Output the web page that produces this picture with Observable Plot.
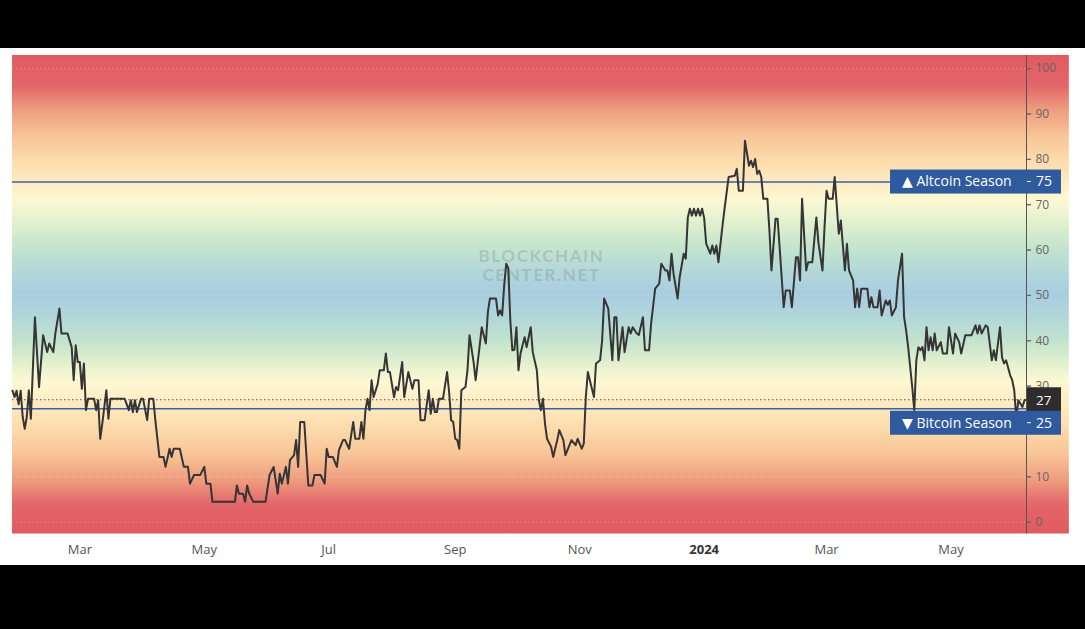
<!DOCTYPE html>
<html><head><meta charset="utf-8">
<script src="https://cdn.jsdelivr.net/npm/d3@7"></script>
<script src="https://cdn.jsdelivr.net/npm/@observablehq/plot@0.6"></script>
<style>
html,body{margin:0;padding:0;background:#000;width:1085px;height:629px;overflow:hidden}
#panel{position:absolute;left:0;top:48px;width:1085px;height:517px;background:#fff}
#panel svg{display:block;overflow:visible}
</style></head><body><div id="panel"></div>
<script>
// ---- data ----
const dates = [
"2023-01-27","2023-01-28","2023-01-29","2023-01-30","2023-01-31","2023-02-01","2023-02-02","2023-02-03","2023-02-04","2023-02-05",
"2023-02-07","2023-02-09","2023-02-11","2023-02-13","2023-02-14","2023-02-16","2023-02-17","2023-02-19","2023-02-20","2023-02-23",
"2023-02-25","2023-02-26","2023-02-27","2023-02-28","2023-03-01","2023-03-02","2023-03-03","2023-03-04","2023-03-05","2023-03-08",
"2023-03-09","2023-03-10","2023-03-11","2023-03-12","2023-03-14","2023-03-15","2023-03-16","2023-03-23","2023-03-25","2023-03-26",
"2023-03-27","2023-03-28","2023-03-29","2023-03-31","2023-04-01","2023-04-03","2023-04-04","2023-04-06","2023-04-07","2023-04-09",
"2023-04-11","2023-04-12","2023-04-14","2023-04-15","2023-04-16","2023-04-19","2023-04-21","2023-04-23","2023-04-24","2023-04-26",
"2023-04-29","2023-05-01","2023-05-02","2023-05-04","2023-05-05","2023-05-16","2023-05-17","2023-05-18","2023-05-20","2023-05-21",
"2023-05-22","2023-05-23","2023-05-25","2023-05-31","2023-06-02","2023-06-04","2023-06-06","2023-06-07","2023-06-08","2023-06-10",
"2023-06-11","2023-06-12","2023-06-14","2023-06-15","2023-06-16","2023-06-17","2023-06-19","2023-06-21","2023-06-23","2023-06-24",
"2023-06-27","2023-06-29","2023-06-30","2023-07-01","2023-07-03","2023-07-05","2023-07-06","2023-07-08","2023-07-09","2023-07-11",
"2023-07-13","2023-07-14","2023-07-16","2023-07-17","2023-07-18","2023-07-19","2023-07-20","2023-07-21","2023-07-22","2023-07-23",
"2023-07-25","2023-07-26","2023-07-28","2023-07-29","2023-07-30","2023-07-31","2023-08-02","2023-08-03","2023-08-04","2023-08-06",
"2023-08-07","2023-08-09","2023-08-11","2023-08-12","2023-08-14","2023-08-15","2023-08-17","2023-08-19","2023-08-20","2023-08-21",
"2023-08-22","2023-08-23","2023-08-24","2023-08-26","2023-08-28","2023-08-29","2023-08-30","2023-08-31","2023-09-01","2023-09-02",
"2023-09-03","2023-09-04","2023-09-06","2023-09-07","2023-09-08","2023-09-10","2023-09-11","2023-09-13","2023-09-14","2023-09-16",
"2023-09-17","2023-09-18","2023-09-21","2023-09-22","2023-09-23","2023-09-24","2023-09-25","2023-09-26","2023-09-27","2023-09-28",
"2023-09-29","2023-09-30","2023-10-01","2023-10-02","2023-10-03","2023-10-05","2023-10-06","2023-10-08","2023-10-09","2023-10-11",
"2023-10-12","2023-10-13","2023-10-14","2023-10-15","2023-10-16","2023-10-18","2023-10-19","2023-10-21","2023-10-22","2023-10-24",
"2023-10-25","2023-10-27","2023-10-28","2023-10-30","2023-10-31","2023-11-02","2023-11-03","2023-11-04","2023-11-05","2023-11-07",
"2023-11-08","2023-11-09","2023-11-11","2023-11-12","2023-11-13","2023-11-15","2023-11-17","2023-11-18","2023-11-19","2023-11-20",
"2023-11-22","2023-11-23","2023-11-25","2023-11-26","2023-11-27","2023-11-29","2023-11-30","2023-12-02","2023-12-03","2023-12-05",
"2023-12-06","2023-12-08","2023-12-10","2023-12-11","2023-12-13","2023-12-14","2023-12-15","2023-12-16","2023-12-17","2023-12-19",
"2023-12-20","2023-12-22","2023-12-23","2023-12-24","2023-12-25","2023-12-26","2023-12-27","2023-12-28","2023-12-29","2023-12-30",
"2023-12-31","2024-01-01","2024-01-02","2024-01-04","2024-01-05","2024-01-06","2024-01-07","2024-01-08","2024-01-10","2024-01-11",
"2024-01-13","2024-01-16","2024-01-17","2024-01-18","2024-01-20","2024-01-21","2024-01-23","2024-01-24","2024-01-25","2024-01-26",
"2024-01-27","2024-01-28","2024-01-29","2024-01-30","2024-02-01","2024-02-02","2024-02-03","2024-02-05","2024-02-06","2024-02-07",
"2024-02-09","2024-02-10","2024-02-12","2024-02-13","2024-02-15","2024-02-16","2024-02-17","2024-02-18","2024-02-20","2024-02-21",
"2024-02-23","2024-02-25","2024-02-26","2024-02-28","2024-02-29","2024-03-01","2024-03-02","2024-03-04","2024-03-05","2024-03-07",
"2024-03-08","2024-03-10","2024-03-11","2024-03-12","2024-03-14","2024-03-15","2024-03-16","2024-03-17","2024-03-18","2024-03-21",
"2024-03-22","2024-03-23","2024-03-24","2024-03-26","2024-03-27","2024-03-28","2024-03-30","2024-03-31","2024-04-01","2024-04-02",
"2024-04-04","2024-04-05","2024-04-07","2024-04-08","2024-04-09","2024-04-10","2024-04-12","2024-04-13","2024-04-14","2024-04-15",
"2024-04-16","2024-04-17","2024-04-18","2024-04-19","2024-04-20","2024-04-21","2024-04-22","2024-04-23","2024-04-24","2024-04-26",
"2024-04-27","2024-04-29","2024-04-30","2024-05-01","2024-05-02","2024-05-03","2024-05-05","2024-05-06","2024-05-08","2024-05-11",
"2024-05-13","2024-05-14","2024-05-15","2024-05-16","2024-05-18","2024-05-19","2024-05-21","2024-05-22","2024-05-23","2024-05-25",
"2024-05-26","2024-05-27","2024-05-28","2024-05-30","2024-05-31","2024-06-01","2024-06-02","2024-06-03","2024-06-05","2024-06-06",
"2024-06-07"
];
const values = [
29,27.6,29,26,29,23.2,20.6,23.2,29.1,22.8,
45.2,29.8,41.2,37.5,39.4,37.5,41.6,47.1,41.6,41.6,
38.6,31.3,39,35.3,35.3,29.4,35,24.7,27.2,27.2,
24.7,26.9,18.4,21.7,29.1,22.8,27.2,27.2,24.7,26.9,
24.3,26.9,24.3,27.2,27.2,22.5,27.2,27.2,22.5,14.4,
14.4,12.2,16.2,14.4,16.2,16.2,12.2,12.2,8.5,10.4,
10.4,12.2,8.5,8.5,4.5,4.5,8.1,6.3,6.3,4.5,
8.1,6.3,4.5,4.5,10.4,12.2,6.3,10.7,8.5,12.2,
8.5,13.7,14.8,18.1,12.2,22.1,22.1,8.1,8.1,10.4,
10.4,8.5,16.2,14.4,14.4,12.2,15.9,18.1,18.1,16.2,
22.1,18.4,18.4,22.1,18.4,24.7,27.2,24.7,31.3,27.6,
30.5,33.5,33.5,37.2,33.1,33.1,27.6,29.8,29.1,35.3,
27.6,33.1,29.4,31.3,31.3,22.5,22.5,29.1,23.9,27.2,
24.3,24.3,27.2,27.2,33.1,28.7,22.5,22.1,18.4,18.1,
16.2,29.1,29.8,33.5,41.2,35.3,31.3,39,43,39.4,
46.3,49.3,49.3,45.6,46.7,45.6,52.2,57,56,44.5,
37.9,38,43,33.5,37.2,40.8,38.6,43,37.5,33.5,
26.9,24.7,27.2,21.7,18.4,16.6,14.4,18.1,20.3,18.1,
14.8,17,18.1,17,18.4,16.2,17.3,27.6,33.1,29.4,
27.6,35,35.7,40.1,49.3,47.1,35.7,45.2,45.2,35.7,
43,37.5,43,41.6,43,41.6,41.3,45.2,37.9,37.9,
43.8,51.5,52.6,57,55.5,55.5,53.3,59.2,54.8,49.3,
54,59.2,58.1,67.2,69.1,67.6,69.1,67.6,69.1,67.6,
69.1,67.1,61.4,59.2,61,59.2,61,57.3,65.4,69.1,
76.1,76.4,77.9,73.1,73.1,84.1,78.6,79.7,78.3,80.1,
76.8,77.5,76.1,71.3,71.3,64.3,55.5,66.9,66.9,60.6,
47.4,51.1,51.1,47.4,58.4,58.4,53.3,71.3,55.5,57.3,
57.3,67.2,61.7,55.5,65,73.1,71.3,71.3,76.1,63.6,
66.5,55.5,61.4,55.5,53.3,47.4,51.5,47.4,51.5,51.5,
47.4,49.6,47.4,47.4,51.1,45.6,48.9,47.9,48.9,45.6,
47.4,53.3,59.2,45.2,42.3,38.6,29.8,24.7,35.7,38.6,
37.9,38.6,35.7,43,37.9,40.8,37.9,41.6,37.9,39.7,
37.2,37.2,43,40.1,37.2,41.6,39.7,37.2,41.2,41.2,
43.4,41.6,43.4,41.6,43.4,43,35.7,37.9,35.7,43,
36.4,35,35.7,32.4,31.3,29.1,22.8,26.9,25.4,26.9,
27
];
const thresholds = [75, 25];
const thresholdLabels = ["▲ Altcoin Season", "▼ Bitcoin Season"];
const yTicks = [0, 10, 20, 30, 40, 50, 60, 70, 80, 90, 100];
const xTickDates = ["2023-03-01","2023-05-01","2023-07-01","2023-09-01","2023-11-01","2024-01-01","2024-03-01","2024-05-01"];
const xTickLabels = ["Mar","May","Jul","Sep","Nov","2024","Mar","May"];
const watermark = ["BLOCKCHAIN", "CENTER.NET"];

// ---- build ----
const data = dates.map((d, i) => ({date: new Date(d), value: values[i]}));
const start = data[0].date, end = data[data.length - 1].date;
const last = values[values.length - 1];
const yDomain = [-2.6, 102.9];
const bg = [{x1: start, x2: d3.utcDay.offset(end, 21), y1: yDomain[0], y2: yDomain[1]}];
const tickMap = new Map(xTickDates.map((d, i) => [+new Date(d), xTickLabels[i]]));

const bgStops = [
  [102.9,"#e05a60"],[96,"#e3676a"],[91,"#ee9b7e"],[85,"#f8c597"],[79.5,"#fddcac"],[75,"#feebc2"],
  [71,"#fdf8d3"],[66,"#e2f0ce"],[60.5,"#c4e4cd"],[55,"#b2d7d9"],[50,"#a8cde0"],[45,"#b2d7d9"],
  [39.5,"#c4e4cd"],[35,"#e2f0ce"],[31,"#fdf8d3"],[26,"#feebc2"],[21,"#fddcac"],[15,"#f8c597"],
  [9,"#ee9b7e"],[4,"#e3676a"],[-2.6,"#e05a60"]
];
const font = "'Open Sans', 'DejaVu Sans', sans-serif";
const boxH = 24;

// first pass: just the scales, to place the price-scale label boxes
const plot0 = Plot.plot({
  width: 1085, height: 517, marginLeft: 12, marginRight: 59, marginTop: 7, marginBottom: 31.5,
  x: {type: "utc", domain: [start, end]}, y: {domain: yDomain}, marks: []
});
const ys0 = plot0.scale("y");
const lastY0 = ys0.apply(last);
const boxCenters = thresholds.map(t => {
  let cy = ys0.apply(t);
  if (Math.abs(cy - lastY0) < boxH) cy = cy > lastY0 ? lastY0 + boxH - 0.5 : lastY0 - boxH + 0.5;
  return cy;
});
const allBoxes = [lastY0, ...boxCenters];
// tick labels whose centre lies under a label box are hidden by that box (as in the reference)
const axisTicks = yTicks.filter(t => !allBoxes.some(c => Math.abs(ys0.apply(t) - c) < boxH / 2));

const plot = Plot.plot({
  width: 1085, height: 517,
  marginLeft: 12, marginRight: 59, marginTop: 7, marginBottom: 31.5,
  style: {background: "transparent", fontFamily: font, fontSize: "12px", overflow: "visible"},
  x: {type: "utc", domain: [start, end]},
  y: {domain: yDomain},
  marks: [
    Plot.rect(bg, {x1: "x1", x2: "x2", y1: "y1", y2: "y2", fill: "url(#bgGrad)"}),
    Plot.gridY(yTicks, {stroke: "#ffffff", strokeOpacity: 0.35, strokeDasharray: "1,3"}),
    Plot.text([watermark.join("\n")], {frameAnchor: "middle", dx: 22, dy: -29, lineHeight: 1.12, fill: "#7f9090", fillOpacity: 0.35, fontSize: 17, fontWeight: "bold", fontFamily: "Lato, sans-serif"}),
    Plot.ruleY(thresholds, {stroke: "#3b62a6", strokeWidth: 1.6}),
    Plot.ruleY([last], {stroke: "#555", strokeDasharray: "1.5,2.5"}),
    Plot.line(data, {x: "date", y: "value", stroke: "#353535", strokeWidth: 2, strokeLinejoin: "round"}),
    Plot.ruleX([end], {stroke: "#555"}),
    Plot.axisY(yTicks, {anchor: "right", tickSize: 4, tickPadding: 5, label: null, color: "#666", text: null}),
    Plot.axisY(axisTicks, {anchor: "right", tickSize: 4, tickPadding: 5, label: null, color: "#666", fontSize: 12}),
    Plot.axisX(xTickDates.map(d => new Date(d)), {anchor: "bottom", tickSize: 0, tickPadding: 11, label: null, color: "#555", fontSize: 13, tickFormat: d => tickMap.get(+d)})
  ]
});
document.getElementById("panel").appendChild(plot);

// gradient definition for the background rect
const svg = d3.select(plot);
const grad = svg.insert("defs", ":first-child").append("linearGradient")
  .attr("id", "bgGrad").attr("x1", 0).attr("y1", 0).attr("x2", 0).attr("y2", 1);
bgStops.forEach(([v, c]) => grad.append("stop")
  .attr("offset", (yDomain[1] - v) / (yDomain[1] - yDomain[0])).attr("stop-color", c));

// watermark letter spacing, bold year label
svg.selectAll("text").filter(function() { return this.textContent.startsWith("BLOCKCHAIN"); })
  .attr("letter-spacing", "1.6px");
svg.selectAll("text").filter(function() { return this.textContent === "2024"; })
  .attr("font-weight", "bold").attr("fill", "#333");

// price-scale labels
const xs = plot.scale("x"), ys = plot.scale("y");
const ax = xs.apply(end);
const g = svg.append("g").attr("font-family", font).attr("text-anchor", "start");
const lastY = ys.apply(last);
g.append("rect").attr("x", ax + 1).attr("y", lastY - boxH / 2).attr("width", 34).attr("height", boxH).attr("fill", "#2d2d2d");
g.append("text").attr("x", ax + 10).attr("y", lastY + 1.5).attr("dy", "0.35em").attr("fill", "#fff").attr("font-size", 13.5).text(last);
thresholds.forEach((t, i) => {
  const cy = boxCenters[i];
  g.append("rect").attr("x", ax - 136).attr("y", cy - boxH / 2).attr("width", 171).attr("height", boxH).attr("fill", "#2f5a9e");
  g.append("text").attr("x", ax - 124).attr("y", cy).attr("dy", "0.35em").attr("fill", "#fff").attr("font-size", 14).text(thresholdLabels[i]);
  g.append("line").attr("x1", ax + 1).attr("x2", ax + 5).attr("y1", cy).attr("y2", cy).attr("stroke", "#fff");
  g.append("text").attr("x", ax + 10).attr("y", cy).attr("dy", "0.35em").attr("fill", "#fff").attr("font-size", 14).text(t);
});
</script></body></html>
